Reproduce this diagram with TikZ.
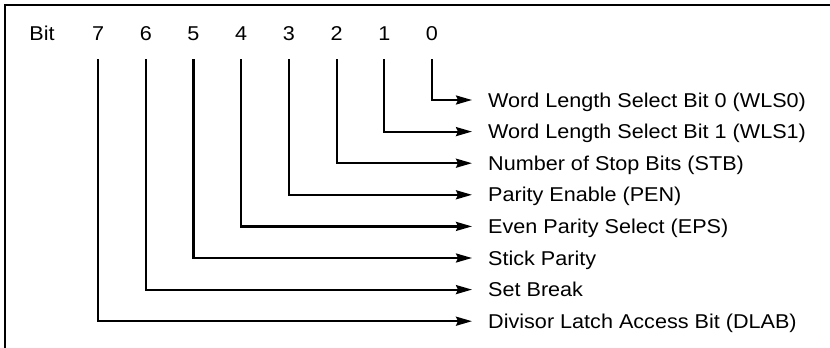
\documentclass[tikz,border=0pt]{standalone}
\usepackage{fontspec}
\setmainfont{Liberation Sans}[FakeStretch=1.08]
\usetikzlibrary{arrows.meta}
\begin{document}
\begin{tikzpicture}[x=1pt,y=-1pt,
  txt/.style={font=\fontsize{20}{24}\selectfont, inner sep=0pt, text height=14.3pt, text depth=0pt},
  bitlabel/.style={txt, anchor=center},
  desc/.style={txt, anchor=west, inner xsep=16pt},
  conn/.style={line width=2.2pt, -{Stealth[length=16pt,width=9pt,inset=2pt]}},
  frame/.style={line width=2.5pt}]
\useasboundingbox (0,0) rectangle (830,348);
\draw[frame] (5,348) -- (5,5) -- (830,5);
\node[bitlabel] (bit) at (42,33) {Bit};
\foreach \k/\t in {0/Word Length Select Bit 0 (WLS0),
                   1/Word Length Select Bit 1 (WLS1),
                   2/Number of Stop Bits (STB),
                   3/Parity Enable (PEN),
                   4/Even Parity Select (EPS),
                   5/Stick Parity,
                   6/Set Break,
                   7/Divisor Latch Access Bit (DLAB)} {
  \node[bitlabel] (b\k) at ({432-47.7*\k},33) {\k};
  \node[desc] (l\k) at (472,{100+31.6*\k}) {\t};
  \draw[conn] ([yshift=-19pt]b\k.south) |- (l\k.west);
}
\end{tikzpicture}
\end{document}
